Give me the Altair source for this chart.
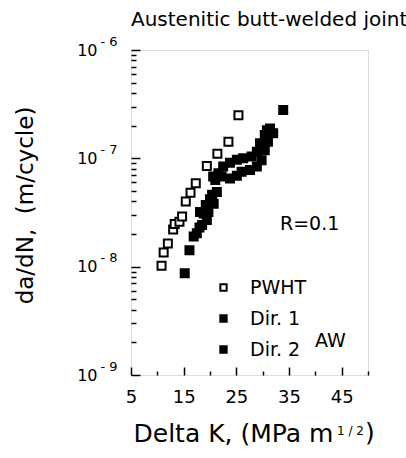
import altair as alt
import pandas as pd

FONT = "DejaVu Sans"

# ---- data ----
series_names = ["PWHT", "Dir. 1", "Dir. 2"]

pwht_k = [10.8, 11.2, 12.0, 13.0, 13.3, 14.2, 14.7, 15.4, 16.3, 17.3, 19.4, 21.4, 23.5, 25.4]
pwht_v = [1.02e-8, 1.35e-8, 1.64e-8, 2.2e-8, 2.48e-8, 2.6e-8, 2.9e-8, 4.0e-8, 4.8e-8,
          5.9e-8, 8.5e-8, 1.1e-7, 1.42e-7, 2.5e-7]

dir1_k = [15.2, 16.1, 17.5, 18.1, 19.2, 19.7, 20.4, 21.0, 21.6, 22.5, 23.8, 25.1, 26.3,
          27.9, 28.9, 29.5, 30.4, 31.4, 33.9]
dir1_v = [8.7e-9, 1.42e-8, 2.03e-8, 3.2e-8, 3.7e-8, 3.2e-8, 4.6e-8, 6.3e-8, 7.3e-8, 8.4e-8,
          9.1e-8, 9.7e-8, 1.0e-7, 1.04e-7, 1.15e-7, 1.38e-7, 1.64e-7, 1.89e-7, 2.8e-7]

dir2_k = [16.9, 18.0, 18.5, 19.4, 18.8, 20.0, 20.7, 21.3, 20.6, 22.2, 23.8, 25.1, 26.0,
          27.6, 28.9, 29.8, 30.4, 31.0, 32.0, 30.8]
dir2_v = [1.9e-8, 2.3e-8, 2.42e-8, 2.7e-8, 3.1e-8, 4.2e-8, 3.8e-8, 4.9e-8, 6.8e-8, 6.8e-8,
          6.5e-8, 6.9e-8, 7.5e-8, 7.8e-8, 8.4e-8, 9.6e-8, 1.19e-7, 1.42e-7, 1.7e-7, 1.82e-7]

x_label_values = [5, 15, 25, 35, 45]
x_tick_values = [5, 10, 15, 20, 25, 30, 35, 40, 45, 50]
y_decades = [1e-9, 1e-8, 1e-7, 1e-6]
y_tick_values = [m * d for d in [1e-9, 1e-8, 1e-7] for m in range(1, 10)] + [1e-6]

df = pd.concat([
    pd.DataFrame({"K": pwht_k, "v": pwht_v, "series": "PWHT"}),
    pd.DataFrame({"K": dir1_k, "v": dir1_v, "series": "Dir. 1"}),
    pd.DataFrame({"K": dir2_k, "v": dir2_v, "series": "Dir. 2"}),
], ignore_index=True)

W, H = 237, 325

x_scale = alt.Scale(type="linear", domain=[5, 50], nice=False, zero=False)
y_scale = alt.Scale(type="log", domain=[1e-9, 1e-6], nice=False)

x_axis_main = alt.Axis(
    values=x_label_values, ticks=False, tickSize=0, domain=False, grid=False,
    labelFont=FONT, labelFontSize=18, labelColor="black", labelPadding=13,
    labelFlush=False, labelOverlap=False,
    title="Delta K, (MPa m", titleFont=FONT, titleFontSize=25, titleFontWeight="normal",
    titleColor="black", titleAlign="left", titleBaseline="alphabetic", titleX=2, titleY=66,
)
y_axis_main = alt.Axis(
    values=y_decades, ticks=False, tickSize=0, domain=False, grid=False,
    labelExpr="'10'", labelFont=FONT, labelFontSize=16, labelColor="black",
    labelPadding=34, labelBaseline="middle", labelOverlap=False,
    title="da/dN,\u00a0\u00a0(m/cycle)", titleFont=FONT, titleFontSize=23,
    titleFontWeight="normal", titleColor="black", titleX=-106, titleY=155,
    titleAlign="center", titleBaseline="middle", titleAngle=270,
)
y_axis_sup = alt.Axis(
    values=y_decades, ticks=False, tickSize=0, domain=False, grid=False,
    labelExpr="'- ' + round(-log(datum.value) / LN10)", labelFont=FONT,
    labelFontSize=13, labelColor="black", labelPadding=14, labelOffset=-9,
    labelBaseline="middle", labelOverlap=False, title=None,
)
x_ticks_axis = alt.Axis(
    orient="top", offset=-H, values=x_tick_values, labels=False, domain=False, grid=False,
    tickColor="black", tickWidth=1.5,
    tickSize={"condition": {"test": "datum.value % 10 == 5", "value": 8}, "value": 4},
    title=None,
)
y_ticks_axis = alt.Axis(
    orient="right", offset=-W, values=y_tick_values, labels=False, domain=False, grid=False,
    tickColor="black", tickWidth=1.5,
    tickSize={"condition": {"test": "abs(log(datum.value)/LN10 - round(log(datum.value)/LN10)) < 0.001",
                            "value": 9}, "value": 5},
    title=None,
)

points = alt.Chart(df).mark_point(
    shape="square", size=64, strokeWidth=2, stroke="black", opacity=1, fillOpacity=1
).encode(
    x=alt.X("K:Q", scale=x_scale, axis=x_axis_main),
    y=alt.Y("v:Q", scale=y_scale, axis=y_axis_main),
    fill=alt.Fill("series:N", scale=alt.Scale(domain=series_names, range=["white", "black", "black"]),
                  legend=alt.Legend(
                      title=None, orient="none", legendX=83, legendY=228, padding=0,
                      symbolType="square", symbolSize=40, symbolStrokeWidth=2,
                      symbolStrokeColor="black", labelFont=FONT, labelFontSize=19,
                      labelColor="black", labelOffset=17, rowPadding=11,
                  )),
    order=alt.Order("series:N", sort="descending"),
)

tick_layer = alt.Chart(df).mark_point(opacity=0).encode(
    x=alt.X("K:Q", scale=x_scale, axis=x_ticks_axis),
    y=alt.Y("v:Q", scale=y_scale, axis=y_ticks_axis),
)
sup_layer = alt.Chart(df).mark_point(opacity=0).encode(
    x=alt.X("K:Q", scale=x_scale, axis=None),
    y=alt.Y("v:Q", scale=y_scale, axis=y_axis_sup),
)

def note(text, x, y, size, align="left"):
    return alt.Chart(pd.DataFrame({"t": [text]})).mark_text(
        font=FONT, fontSize=size, color="black", align=align, baseline="alphabetic"
    ).encode(text="t:N", x=alt.value(x), y=alt.value(y))

annotations = [
    note("R=0.1", 149, 180, 19),
    note("AW", 184, 297, 19),
    note("1 / 2", 206, 385, 12),
    note(")", 234, 391, 25),
]

chart = alt.layer(points, tick_layer, sup_layer, *annotations).resolve_axis(
    x="independent", y="independent"
).properties(
    width=W, height=H,
    padding={"left": 131, "top": 50, "right": 406 - 131 - W, "bottom": 458 - 50 - H},
    autosize=alt.AutoSizeParams(type="none"),
    title=alt.TitleParams("Austenitic butt-welded joint", anchor="start", frame="group",
                          font=FONT, fontSize=20, fontWeight="normal", color="black",
                          baseline="alphabetic", offset=10, dy=21),
).configure_view(stroke="black", strokeWidth=2).configure(background="white")

chart.save("out.html", embed_options={"renderer": "svg", "actions": False})
